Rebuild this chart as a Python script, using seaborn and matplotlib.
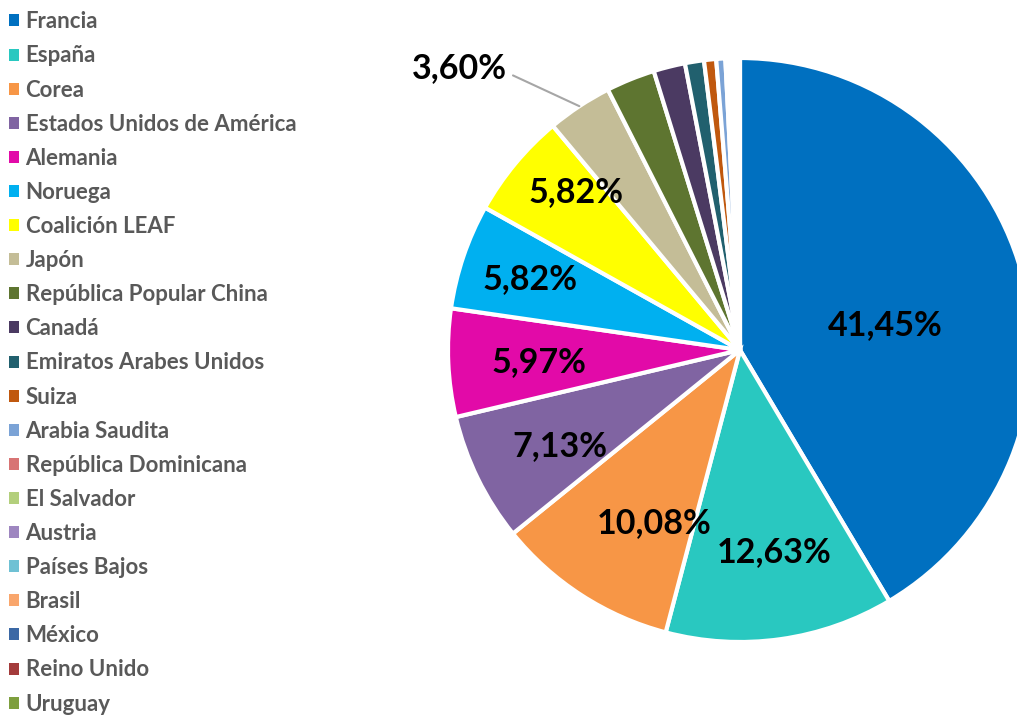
import numpy as np
import matplotlib
matplotlib.use("Agg")
import matplotlib.pyplot as plt
import seaborn as sns

# data
countries = [
    "Francia", "España", "Corea", "Estados Unidos de América", "Alemania",
    "Noruega", "Coalición LEAF", "Japón", "República Popular China", "Canadá",
    "Emiratos Arabes Unidos", "Suiza", "Arabia Saudita", "República Dominicana",
    "El Salvador", "Austria", "Países Bajos", "Brasil", "México", "Reino Unido",
    "Uruguay",
]
shares = [41.45, 12.63, 10.08, 7.13, 5.97, 5.82, 5.82, 3.60, 2.70, 1.75,
          1.05, 0.67, 0.50, 0.10, 0.10, 0.10, 0.10, 0.10, 0.10, 0.10, 0.10]
colors = [
    "#0070C0", "#29C8C0", "#F79646", "#8064A2", "#E20AA8", "#00B0F0",
    "#FFFF00", "#C4BD97", "#5E7530", "#4B3A62", "#21606E", "#C0580E",
    "#7BA3D6", "#D87474", "#B3CF7C", "#9E86C0", "#6FC1D4", "#F9A66C",
    "#3B68A5", "#A33B3B", "#7E9F3E",
]
# labelled slices: index -> (radial fraction, angular shift in degrees)
label_pos = {0: (0.505, 5.6), 1: (0.70, -1.5), 2: (0.66, -6.6), 3: (0.70, -2.0),
             4: (0.69, -1.0), 5: (0.76, 0.0), 6: (0.78, 4.2)}
outside_label = 7

sns.set_theme(style="white")
plt.rcParams["font.family"] = ["Lato", "DejaVu Sans"]

W, H = 1017, 715
fig = plt.figure(figsize=(W / 100, H / 100), dpi=100)
cx, cy, r = 740, 350, 292
lim = 1.4
side = 2 * lim * r
ax = fig.add_axes([(cx - side / 2) / W, ((H - cy) - side / 2) / H, side / W, side / H])

wedges, _ = ax.pie(
    shares, colors=colors, startangle=90, counterclock=False, radius=1,
    wedgeprops=dict(edgecolor="white", linewidth=3),
)
ax.set_xlim(-lim, lim)
ax.set_ylim(-lim, lim)
ax.set_aspect("equal")
ax.axis("off")

cum = np.cumsum([0] + shares) / sum(shares)
for i, (frac, shift) in label_pos.items():
    mid = (cum[i] + cum[i + 1]) / 2 * 2 * np.pi + np.deg2rad(shift)
    x, y = frac * np.sin(mid), frac * np.cos(mid)
    ax.text(x, y, f"{shares[i]:.2f}%".replace(".", ","), ha="center", va="center",
            fontsize=24.5, fontweight="bold", color="black")

mid = (cum[outside_label] + cum[outside_label + 1]) / 2 * 2 * np.pi
ax.annotate(
    f"{shares[outside_label]:.2f}%".replace(".", ","),
    xy=(np.sin(mid), np.cos(mid)), xytext=(-0.96, 0.966),
    ha="center", va="center", fontsize=24.5, fontweight="bold", color="black",
    arrowprops=dict(arrowstyle="-", color="#A6A6A6", lw=1.5, relpos=(1.0, 0.35),
                    shrinkA=2, shrinkB=0),
)

leg = fig.legend(
    wedges, countries, loc="upper left", bbox_to_anchor=(0.0, 1.0 - 2.5 / H),
    frameon=False, fontsize=16, handlelength=0.45, handleheight=0.45,
    handletextpad=0.3, labelspacing=0.59, borderaxespad=0.1, borderpad=0.3,
)
for t in leg.get_texts():
    t.set_color("#595959")
    t.set_fontweight("bold")
for h in leg.legend_handles:
    h.set_linewidth(0)

fig.savefig("out.png", dpi=100)
plt.close(fig)
